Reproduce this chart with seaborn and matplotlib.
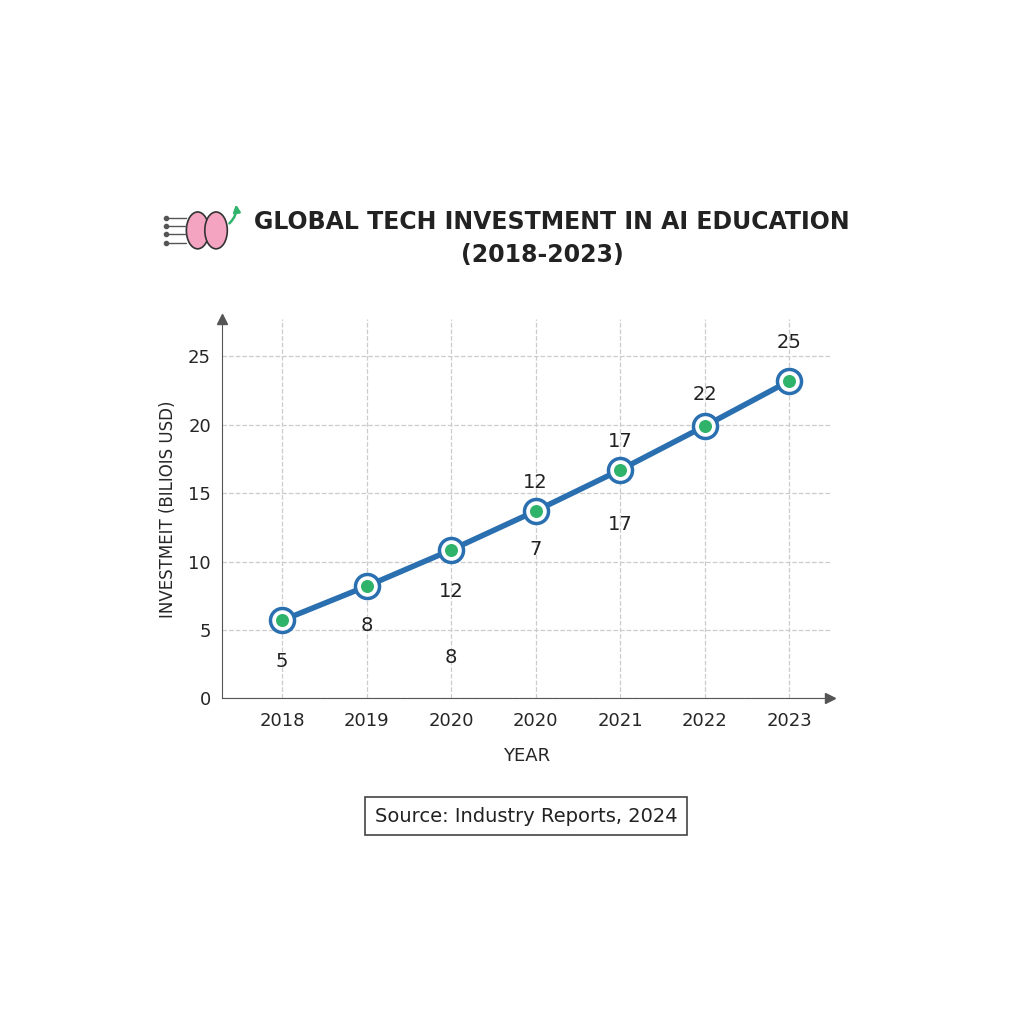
import matplotlib
matplotlib.use("Agg")
import matplotlib.pyplot as plt
import seaborn as sns
import pandas as pd
from matplotlib.patches import Ellipse, FancyArrowPatch

years = ["2018", "2019", "2020", "2020", "2021", "2022", "2023"]
values = [5.7, 8.2, 10.85, 13.7, 16.7, 19.9, 23.2]
ann_text = ["5", "8", "12", "8", "7", "12", "17", "17", "22", "25"]
ann_x = [0, 1, 2, 2, 3, 3, 4, 4, 5, 6]
ann_y = [2.7, 5.3, 7.8, 3.0, 10.9, 15.8, 18.8, 12.7, 22.2, 26.0]

df = pd.DataFrame({"pos": range(len(years)), "value": values})

sns.set_style("white")
fig = plt.figure(figsize=(10.24, 10.24), dpi=100)
ax = fig.add_axes([0.217, 0.318, 0.594, 0.37])
blue = "#2a6fb0"
sns.lineplot(data=df, x="pos", y="value", ax=ax, color=blue, lw=4, zorder=3)
ax.scatter(df["pos"], df["value"], s=300, facecolor="white", edgecolor=blue, lw=2.5, zorder=4)
ax.scatter(df["pos"], df["value"], s=70, color="#2fb36a", zorder=5)
for t, x, y in zip(ann_text, ann_x, ann_y):
    ax.text(x, y, t, ha="center", va="center", fontsize=14, color="#222222")

ax.set_xlim(-0.71, 6.49)
ax.set_ylim(0, 27.7)
ax.set_xticks(range(len(years)))
ax.set_xticklabels(years, fontsize=13)
ax.set_yticks([0, 5, 10, 15, 20, 25])
ax.tick_params(axis="y", labelsize=13, length=0, pad=8)
ax.tick_params(axis="x", length=0, pad=10)
ax.grid(True, ls="--", color="#cccccc", lw=0.9)
for s in ["top", "right"]:
    ax.spines[s].set_visible(False)
for s in ["left", "bottom"]:
    ax.spines[s].set_color("#555555")
ax.plot(1, 0, ">", transform=ax.transAxes, color="#555555", clip_on=False, ms=7)
ax.plot(0, 1, "^", transform=ax.transAxes, color="#555555", clip_on=False, ms=7)
ax.set_xlabel("YEAR", fontsize=13, labelpad=12)
ax.set_ylabel("INVESTMEIT (BILIOIS USD)", fontsize=12, labelpad=8)

fig.text(0.539, 0.783, "GLOBAL TECH INVESTMENT IN AI EDUCATION", ha="center", va="center",
         fontsize=17, fontweight="bold", color="#222222")
fig.text(0.53, 0.751, "(2018-2023)", ha="center", va="center", fontsize=17, fontweight="bold", color="#222222")

# brain icon
ia = fig.add_axes([0.15, 0.745, 0.09, 0.065])
ia.set_xlim(0, 9); ia.set_ylim(0, 6.5); ia.axis("off")
ia.add_patch(Ellipse((4.3, 3), 2.2, 3.6, fc="#f4a3c0", ec="#333333", lw=1.2))
ia.add_patch(Ellipse((6.1, 3), 2.2, 3.6, fc="#f4a3c0", ec="#333333", lw=1.2))
for yy in [1.8, 2.6, 3.4, 4.2]:
    ia.plot([1.2, 3.2], [yy, yy], color="#555555", lw=1)
    ia.plot(1.2, yy, "o", color="#555555", ms=3)
ia.add_patch(FancyArrowPatch((7.2, 3.5), (8.0, 5.8), arrowstyle="-|>", mutation_scale=10,
                             color="#2fb36a", lw=1.8, connectionstyle="arc3,rad=0.3"))

fig.text(0.514, 0.203, "Source: Industry Reports, 2024", ha="center", va="center", fontsize=14,
         color="#222222", bbox=dict(boxstyle="square,pad=0.5", fc="white", ec="#444444", lw=1.2))

fig.savefig("out.png", dpi=100, facecolor="white")
